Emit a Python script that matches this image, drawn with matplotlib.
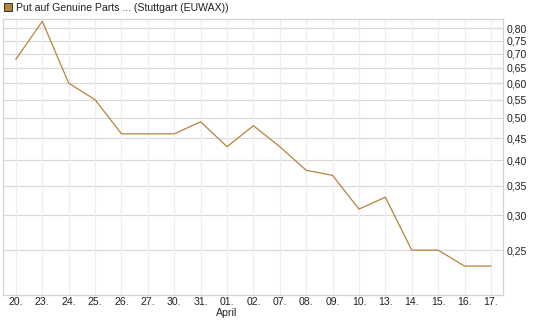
import matplotlib
matplotlib.use("Agg")
import matplotlib.pyplot as plt
from matplotlib.ticker import FixedLocator, NullLocator

plt.rcParams['font.family'] = ['Liberation Sans', 'DejaVu Sans']

dates = ["20.", "23.", "24.", "25.", "26.", "27.", "30.", "31.", "01.", "02.",
         "07.", "08.", "09.", "10.", "13.", "14.", "15.", "16.", "17."]
prices = [0.68, 0.83, 0.60, 0.55, 0.46, 0.46, 0.46, 0.49, 0.43, 0.48,
          0.43, 0.38, 0.37, 0.31, 0.33, 0.25, 0.25, 0.23, 0.23]
yticks = [0.25, 0.30, 0.35, 0.40, 0.45, 0.50, 0.55, 0.60, 0.65, 0.70, 0.75, 0.80]
title = "Put auf Genuine Parts ... (Stuttgart (EUWAX))"
line_color = "#b5843c"
fs = 7.6

fig = plt.figure(figsize=(5.45, 3.27), dpi=100)
ax = fig.add_axes([0.005, 0.099, 0.918, 0.843])

x = list(range(len(dates)))
ax.plot(x, prices, color=line_color, lw=0.9)

ax.set_yscale('log')
ax.set_ylim(0.198, 0.84)
ax.set_xlim(-0.5, 18.46)
ax.yaxis.set_major_locator(FixedLocator(yticks))
ax.yaxis.set_minor_locator(NullLocator())
ax.set_yticklabels([f"{v:.2f}".replace(".", ",") for v in yticks])
ax.yaxis.tick_right()
ax.set_xticks(x)
ax.set_xticklabels(dates)
ax.tick_params(axis='both', length=0, labelsize=fs, colors='#222222')
ax.tick_params(axis='y', pad=2.7)
ax.tick_params(axis='x', pad=2)

for v in yticks:
    ax.axhline(v, color='#d9d9d9', lw=0.9, zorder=0)
for xi in x:
    ax.axvline(xi, color='#eeeeee', lw=0.9, zorder=0)

for s in ax.spines.values():
    s.set_color('#d4d4d4')
    s.set_linewidth(0.9)

ax.text(8, -0.068, "April", transform=ax.get_xaxis_transform(),
        ha='center', va='center', fontsize=fs, color='#222222')

fig.patches.append(plt.Rectangle((0.007, 0.965), 0.015, 0.025, transform=fig.transFigure,
                                 facecolor=line_color, edgecolor='#333333', lw=0.7))
fig.text(0.03, 0.977, title, fontsize=fs, va='center', ha='left', color='#222222')

fig.savefig("out.png", dpi=100)
